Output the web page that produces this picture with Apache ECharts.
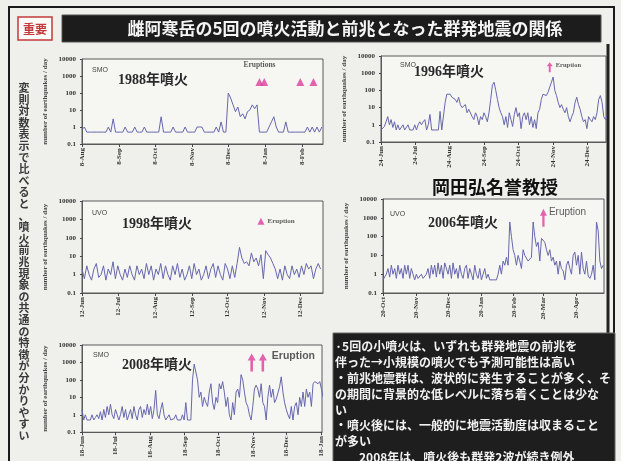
<!DOCTYPE html>
<html>
<head>
<meta charset="utf-8">
<script src="https://cdn.jsdelivr.net/npm/echarts@6/dist/echarts.min.js"></script>
<style>
html,body{margin:0;padding:0;background:#efefec;}
#c{width:621px;height:461px;}
</style>
</head>
<body>
<div id="c"></div>
<script>
// Daily earthquake counts around five Meakandake eruptions.
// Days without events sit at 0.5 on the modified log scale.

// 1988 eruption (SMO), one value every 2 days from 8 Aug 1988
const start1988 = '1988-08-08';
const step1988 = 2;
const counts1988 = [
  0.7, 1, 0.5, 0.5, 0.5, 0.5, 0.5, 0.5, 0.5, 0.5,
  0.5, 1, 0.5, 3, 0.5, 0.5, 0.5, 0.5, 1, 0.5,
  0.5, 0.5, 1, 0.5, 0.5, 0.5, 1, 0.5, 0.5, 0.5,
  0.5, 0.5, 0.5, 4, 0.5, 0.5, 0.5, 0.5, 1, 0.5,
  0.5, 0.5, 0.5, 1, 0.5, 0.5, 0.5, 0.5, 1, 1,
  1, 0.5, 0.5, 0.5, 0.5, 0.5, 1, 0.5, 2, 0.5,
  0.5, 100, 50, 20, 8, 15, 4, 6, 3, 8,
  10, 20, 12, 20, 0.5, 0.5, 0.5, 0.5, 1, 2,
  4, 1, 0.5, 0.5, 0.5, 2, 0.5, 0.5, 0.5, 0.5,
  0.5, 0.5, 0.5, 0.5, 1, 0.5, 1, 0.5, 1, 0.5,
  1
];
const tickDates1988 = ['1988-08-08', '1988-09-08', '1988-10-08', '1988-11-08', '1988-12-08', '1989-01-08', '1989-02-08'];
const tickLabels1988 = ['8-Aug', '8-Sep', '8-Oct', '8-Nov', '8-Dec', '8-Jan', '8-Feb'];
const eruptions1988 = ['1989-01-03', '1989-01-07', '1989-02-06', '1989-02-17'];

// 1996 eruption (SMO), one value every 1.5 days from 24 Jun 1996
const start1996 = '1996-06-24';
const step1996 = 1.5;
const counts1996 = [
  0.5, 0.5, 0.8, 1.5, 3, 1, 2, 0.7, 1.5, 0.5,
  1, 0.5, 0.5, 1, 0.5, 0.5, 1, 0.5, 0.5, 0.5,
  1, 0.5, 1, 1.5, 1, 1.5, 2, 0.5, 1, 4,
  0.5, 0.5, 0.5, 0.5, 0.5, 6, 0.5, 0.5, 20, 60,
  50, 60, 40, 50, 30, 20, 40, 15, 10, 8,
  15, 5, 8, 10, 3, 2, 5, 3, 1, 3,
  2, 5, 3, 1.5, 5, 30, 200, 300, 100, 30,
  10, 5, 3, 1, 3, 0.7, 5, 2, 0.8, 4,
  10, 3, 5, 0.6, 3, 5, 2, 5, 1, 3,
  0.7, 2, 0.6, 5, 8, 30, 60, 70, 50, 80,
  100, 300, 600, 100, 50, 20, 10, 15, 8, 5,
  10, 3, 1.5, 3, 5, 20, 40, 15, 8, 3,
  1.5, 2, 0.6, 3, 2, 1.5, 3, 2, 5, 30,
  50, 20, 3, 2, 3, 5
];
const tickDates1996 = ['1996-06-24', '1996-07-24', '1996-08-24', '1996-09-24', '1996-10-24', '1996-11-24', '1996-12-24'];
const tickLabels1996 = ['24-Jun', '24-Jul', '24-Aug', '24-Sep', '24-Oct', '24-Nov', '24-Dec'];
const eruptions1996 = ['1996-11-21'];

// 1998 eruption (UVO), one value every 2 days from 12 Jun 1998
const start1998 = '1998-06-12';
const step1998 = 2;
const counts1998 = [
  2, 0.6, 3, 1, 0.5, 2, 4, 0.7, 1, 3,
  0.5, 2, 1, 5, 0.6, 3, 1, 0.5, 2, 0.7,
  3, 1, 0.5, 3, 1, 2, 0.6, 4, 1, 3,
  0.5, 2, 1, 4, 0.6, 3, 1, 0.5, 3, 1,
  4, 0.7, 2, 0.5, 1, 3, 0.6, 4, 1, 2,
  0.5, 1, 3, 0.6, 2, 4, 0.7, 3, 1, 0.5,
  4, 2, 0.6, 3, 0.7, 4, 30, 8, 4, 5,
  3, 15, 5, 8, 3, 12, 0.6, 20, 12, 8,
  4, 2, 0.6, 2, 0.5, 3, 1, 0.6, 3, 1,
  2, 0.7, 3, 1, 4, 2, 3, 0.6, 2, 4,
  2
];
const tickDates1998 = ['1998-06-12', '1998-07-12', '1998-08-12', '1998-09-12', '1998-10-12', '1998-11-12', '1998-12-12'];
const tickLabels1998 = ['12-Jun', '12-Jul', '12-Aug', '12-Sep', '12-Oct', '12-Nov', '12-Dec'];
const eruptions1998 = ['1998-11-09'];

// 2006 eruption (UVO), one value every 1.57 days from 20 Oct 2005
const start2006 = '2005-10-20';
const step2006 = 1.57;
const counts2006 = [
  0.5, 0.5, 1, 2, 0.7, 3, 1, 2, 0.6, 3,
  1, 2, 0.6, 3, 1, 3, 0.6, 2, 1, 0.5,
  1, 0.6, 0.5, 1, 0.6, 0.5, 1, 2, 0.6, 3,
  1, 3, 0.7, 4, 1, 3, 0.6, 4, 5, 1,
  3, 0.6, 4, 1, 2, 0.6, 3, 1, 0.6, 2,
  3, 0.6, 2, 1, 0.5, 3, 1, 0.6, 2, 0.5,
  1, 2, 0.6, 1, 0.5, 0.5, 0.5, 0.5, 0.5, 1,
  3, 1, 5, 3, 8, 3, 600, 100, 20, 10,
  3, 10, 5, 2, 20, 10, 8, 5, 5, 8,
  600, 100, 30, 50, 5, 80, 100, 50, 20, 10,
  20, 5, 8, 3, 5, 1, 5, 2, 1.5, 0.5,
  3, 5, 2, 1, 10, 15, 3, 10, 1, 15,
  2, 1, 5, 0.8, 0.6, 1, 3, 0.5, 600, 200,
  5, 2, 3
];
const tickDates2006 = ['2005-10-20', '2005-11-20', '2005-12-20', '2006-01-20', '2006-02-20', '2006-03-20', '2006-04-20'];
const tickLabels2006 = ['20-Oct', '20-Nov', '20-Dec', '20-Jan', '20-Feb', '20-Mar', '20-Apr'];
const eruptions2006 = ['2006-03-20'];

// 2008 eruption (SMO), one value every 1.5 days from 18 Jun 2008
const start2008 = '2008-06-18';
const step2008 = 1.5;
const counts2008 = [
  2, 0.5, 1, 0.5, 0.5, 0.5, 1, 0.5, 0.7, 1,
  0.6, 1.5, 0.5, 2, 0.7, 3, 1, 4, 1, 0.6,
  2, 1, 0.5, 1, 3, 0.7, 2, 0.5, 1, 2,
  0.6, 3, 1, 0.5, 2, 3, 0.7, 2, 1, 4,
  1, 3, 0.6, 2, 25, 1, 0.6, 2, 5, 1,
  0.5, 0.5, 1, 0.5, 0.5, 0.6, 1, 0.5, 0.5, 0.5,
  1, 0.5, 5, 0.5, 0.5, 0.5,
  100, 800, 1000, 100, 10, 20, 3, 10, 5, 3,
  20, 60, 5, 2, 10, 5, 60, 30, 80, 20,
  3, 10, 1, 0.5, 5, 1, 20, 30, 10, 200,
  100, 20, 5, 3, 1, 0.5, 3, 30, 50, 30,
  10, 60, 5, 3, 0.5, 10, 50, 10, 30, 5,
  8, 10, 40, 150, 20, 5, 2, 1, 0.6, 3,
  0.5, 3, 5, 1, 10, 3, 20, 3, 30, 10,
  20, 3, 60, 80, 100, 60, 80, 30, 10
];
const tickDates2008 = ['2008-06-18', '2008-07-18', '2008-08-18', '2008-09-18', '2008-10-18', '2008-11-18', '2008-12-18', '2009-01-18'];
const tickLabels2008 = ['18-Jun', '18-Jul', '18-Aug', '18-Sep', '18-Oct', '18-Nov', '18-Dec', '18-Jan'];
const eruptions2008 = ['2008-11-17', '2008-11-27'];

const DAY_MS = 86400000;
const dayOf = (d, s) => Math.round((Date.parse(d) - Date.parse(s)) / DAY_MS);

const SERIF = '"Liberation Serif", "DejaVu Serif", serif';
const CJK = '"Noto Sans CJK JP", "Noto Sans CJK SC", sans-serif';
const LINE = '#6767ad';
const PINK = '#dd3d9c';
const ARROW = 'path://M5,0L10,7L6.6,7L6.6,18L3.4,18L3.4,7L0,7Z';

const panels = [
  { start: start1988, step: step1988, counts: counts1988, span: 201, ticks: tickDates1988, labels: tickLabels1988,
    erupt: eruptions1988, level: 450, grid: { left: 82, top: 59, width: 241, height: 85 },
    symbol: 'triangle', size: [8, 8], label: { idx: 0, text: 'Eruptions', position: 'top', distance: 9, font: SERIF, fontSize: 7.5, fontWeight: 'bold' } },
  { start: start1996, step: step1996, counts: counts1996, span: 200, ticks: tickDates1996, labels: tickLabels1996,
    erupt: eruptions1996, level: 2200, grid: { left: 381, top: 56, width: 225, height: 86 },
    symbol: ARROW, size: [6, 10], label: { idx: 0, text: 'Eruption', position: 'right', distance: 3, offset: [0, -2], font: SERIF, fontSize: 6.5, fontWeight: 'bold' } },
  { start: start1998, step: step1998, counts: counts1998, span: 202, ticks: tickDates1998, labels: tickLabels1998,
    erupt: eruptions1998, level: 800, grid: { left: 82, top: 201, width: 241, height: 92 },
    symbol: 'triangle', size: [7, 7], label: { idx: 0, text: 'Eruption', position: 'right', distance: 3, font: SERIF, fontSize: 7, fontWeight: 'bold' } },
  { start: start2006, step: step2006, counts: counts2006, span: 208, ticks: tickDates2006, labels: tickLabels2006,
    erupt: eruptions2006, level: 1000, grid: { left: 383, top: 199, width: 221, height: 94 },
    symbol: ARROW, size: [7, 18], label: { idx: 0, text: 'Eruption', position: 'right', distance: 2, offset: [0, -6], font: '"Liberation Sans", Arial, sans-serif', fontSize: 10, fontWeight: 'normal' } },
  { start: start2008, step: step2008, counts: counts2008, span: 215, ticks: tickDates2008, labels: tickLabels2008,
    erupt: eruptions2008, level: 1000, grid: { left: 82, top: 345, width: 240, height: 92 },
    symbol: ARROW, size: [8, 18], label: { idx: 1, text: 'Eruption', position: 'right', distance: 5, offset: [0, -6], font: '"Liberation Sans", Arial, sans-serif', fontSize: 10.5, fontWeight: 'bold' } }
];

const grids = [], xAxes = [], yAxes = [], series = [];
panels.forEach((p, i) => {
  grids.push(Object.assign({ show: true, backgroundColor: '#f6f6f3', borderColor: '#5a5a5a', borderWidth: 1 }, p.grid));
  const tickDays = p.ticks.map(d => dayOf(d, p.start));
  xAxes.push({
    gridIndex: i, type: 'value', min: 0, max: p.span,
    axisLine: { show: true, lineStyle: { color: '#5a5a5a', width: 1 } },
    axisTick: { show: true, customValues: tickDays, length: 3, lineStyle: { color: '#444' } },
    axisLabel: {
      customValues: tickDays, rotate: 90, margin: 4,
      fontFamily: SERIF, fontSize: 7, fontWeight: 'bold', color: '#333',
      formatter: v => p.labels[tickDays.indexOf(Math.round(v))] || ''
    },
    splitLine: { show: false }
  });
  yAxes.push({
    gridIndex: i, type: 'log', logBase: 10, min: 0.1, max: 10000,
    name: 'number of earthquakes / day', nameLocation: 'middle', nameRotate: 90, nameGap: 33,
    nameTextStyle: { fontFamily: SERIF, fontSize: 7, fontWeight: 'bold', color: '#444' },
    axisLine: { show: true, lineStyle: { color: '#5a5a5a' } },
    axisTick: { show: true, length: 2, lineStyle: { color: '#444' } },
    axisLabel: { fontFamily: SERIF, fontSize: 7, fontWeight: 'bold', color: '#333', margin: 6,
      formatter: v => String(v) },
    splitLine: { show: false }
  });
  series.push({
    type: 'line', xAxisIndex: i, yAxisIndex: i, showSymbol: false, silent: true,
    lineStyle: { color: LINE, width: 1 },
    data: p.counts.map((v, k) => [k * p.step, v])
  });
  series.push({
    type: 'scatter', xAxisIndex: i, yAxisIndex: i, silent: true,
    symbol: p.symbol, symbolSize: p.size, symbolKeepAspect: false,
    itemStyle: { color: PINK },
    z: 5,
    data: p.erupt.map((d, k) => ({
      value: [dayOf(d, p.start), p.level],
      label: k === p.label.idx ? {
        show: true, formatter: p.label.text, position: p.label.position,
        distance: p.label.distance, offset: p.label.offset || [0, 0],
        fontFamily: p.label.font, fontSize: p.label.fontSize, fontWeight: p.label.fontWeight, color: '#333'
      } : { show: false }
    }))
  });
});

// slide decorations, headings and notes
const yearTitle = (text, x, y) => ({ type: 'text', x, y, style: { text, font: 'bold 14px ' + SERIF + ', ' + CJK, fill: '#2a2a2a', textVerticalAlign: 'middle' }, z: 10 });
const station = (text, x, y) => ({ type: 'text', x, y, style: { text, font: '7px "Liberation Sans", Arial, sans-serif', fill: '#444', textVerticalAlign: 'middle' }, z: 10 });

const sideNote = '変則対数表示で比べると、噴火前兆現象の共通の特徴が分かりやすい';
const noteLines = [
  '·5回の小噴火は、いずれも群発地震の前兆を',
  '伴った→小規模の噴火でも予測可能性は高い',
  '・前兆地震群は、波状的に発生することが多く、そ',
  'の期間に背景的な低レベルに落ち着くことは少な',
  'い',
  '・噴火後には、一般的に地震活動度は収まること',
  'が多い',
  '　　2008年は、噴火後も群発2波が続き例外'
];

const graphic = [
  { type: 'rect', shape: { x: 9, y: 7, width: 605, height: 470 }, style: { fill: 'none', stroke: '#1a1a1a', lineWidth: 2 }, z: 1 },
  { type: 'line', shape: { x1: 608, y1: 44, x2: 608, y2: 334 }, style: { stroke: '#222', lineWidth: 3 }, z: 1 },
  { type: 'rect', shape: { x: 62, y: 15, width: 539, height: 27 }, style: { fill: '#1c1c1c', stroke: '#555', lineWidth: 1 }, z: 2 },
  { type: 'text', x: 345, y: 29, style: { text: '雌阿寒岳の5回の噴火活動と前兆となった群発地震の関係', font: 'bold 17px ' + CJK, fill: '#f4f4f4', textAlign: 'center', textVerticalAlign: 'middle' }, z: 3 },
  { type: 'rect', shape: { x: 18, y: 17, width: 34, height: 23 }, style: { fill: '#fbfbf8', stroke: '#c43a3a', lineWidth: 1.5 }, z: 2 },
  { type: 'text', x: 35, y: 29, style: { text: '重要', font: 'bold 12px ' + CJK, fill: '#c43a3a', textAlign: 'center', textVerticalAlign: 'middle' }, z: 3 },
  { type: 'text', x: 24, y: 82, style: { text: sideNote.split('').join('\n'), font: 'bold 11px ' + CJK, lineHeight: 11.6, fill: '#3a3a3a', textAlign: 'center' }, z: 3 },
  { type: 'text', x: 495, y: 187, style: { text: '岡田弘名誉教授', font: 'bold 18px ' + CJK, fill: '#111', textAlign: 'center', textVerticalAlign: 'middle' }, z: 3 },
  yearTitle('1988年噴火', 118, 80),
  yearTitle('1996年噴火', 414, 72),
  yearTitle('1998年噴火', 122, 224),
  yearTitle('2006年噴火', 428, 223),
  yearTitle('2008年噴火', 122, 365),
  station('SMO', 92, 70),
  station('SMO', 400, 65),
  station('UVO', 92, 213),
  station('UVO', 390, 214),
  station('SMO', 93, 355),
  { type: 'rect', shape: { x: 333, y: 333, width: 282, height: 140 }, style: { fill: '#1e1e1e', stroke: '#666', lineWidth: 1 }, z: 2 },
  { type: 'text', x: 335, y: 339, style: { text: noteLines.join('\n'), font: 'bold 12px ' + CJK, lineHeight: 15.8, fill: '#f2f2f2' }, z: 3 }
];

const chart = echarts.init(document.getElementById('c'), null, { renderer: 'canvas' });
chart.setOption({
  backgroundColor: '#efefec',
  animation: false,
  grid: grids,
  xAxis: xAxes,
  yAxis: yAxes,
  series: series,
  graphic: graphic
});
</script>
</body>
</html>
